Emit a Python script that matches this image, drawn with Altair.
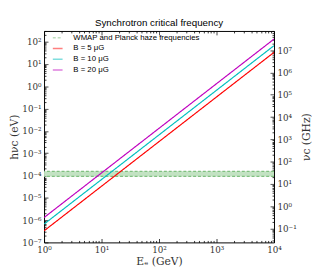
import altair as alt
import pandas as pd

# ---- data ----
energy_gev = [1, 10000]
b_labels = ["B = 5 μG", "B = 10 μG", "B = 20 μG"]
hnu_ev_b5 = [3.3e-7, 33]
hnu_ev_b10 = [6.6e-7, 66]
hnu_ev_b20 = [1.3e-6, 130]
haze_label = "WMAP and Planck haze frequencies"
haze_ghz = [22, 37]

series_order = [haze_label] + b_labels
series_colors = ["#80c080", "#ff0000", "#00bfbf", "#bf00bf"]
series_dash = [[3, 2], [1, 0], [1, 0], [1, 0]]

EV_TO_GHZ = 2.418e5
x_domain = [1, 1e4]
ev_domain = [1e-7, 300]
ghz_domain = [ev_domain[0] * EV_TO_GHZ, ev_domain[1] * EV_TO_GHZ]


def log_ticks(lo, hi):
    vals = []
    for e in range(-9, 10):
        for m in range(1, 10):
            v = float(f"{m}e{e}")
            if lo * (1 - 1e-9) <= v <= hi * (1 + 1e-9):
                vals.append(v)
    return vals


lines_df = pd.DataFrame({
    "energy": energy_gev * 3,
    "ev": hnu_ev_b5 + hnu_ev_b10 + hnu_ev_b20,
    "series": [b_labels[0]] * 2 + [b_labels[1]] * 2 + [b_labels[2]] * 2,
})
rule_df = pd.DataFrame({"ghz": haze_ghz, "series": [haze_label] * 2})
band_df = pd.DataFrame({"lo": [haze_ghz[0]], "hi": [haze_ghz[1]]})
top_df = pd.DataFrame({"energy": energy_gev})

LOG = "log(datum.value)/LN10"
DECADE = f"abs({LOG} - round({LOG})) < 0.001"
SUP = ("(round(" + LOG + ") < 0 ? '⁻' : '') + "
       "['⁰','¹','²','³','⁴','⁵','⁶','⁷','⁸','⁹'][abs(round(" + LOG + "))]")
LABEL = f"({DECADE}) ? '10' + {SUP} : ''"
TICKDASH = {"condition": {"test": f"!({DECADE})", "value": [0, 2, 2, 0]}, "value": [1, 0]}


def log_axis(orient, values, title=None, labels=True, **kw):
    args = dict(
        orient=orient, values=values, labels=labels, domain=False, grid=False,
        offset=-4, tickSize=4, tickColor="black", tickWidth=0.8, tickDash=TICKDASH,
        labelFont="DejaVu Serif", labelFontSize=9, labelColor="#333",
        labelPadding=3, labelOverlap=False, labelFlush=False,
        titleFont="DejaVu Serif", titleFontSize=11, titleFontWeight="normal",
        titleColor="#333",
    )
    if labels:
        args["labelExpr"] = LABEL
    args["title"] = title
    args.update(kw)
    return alt.Axis(**args)


legend = alt.Legend(
    orient="none", legendX=8, legendY=1, title=None, symbolType="stroke",
    symbolSize=100, symbolStrokeWidth=1.6, symbolOpacity=0.5,
    labelFont="Liberation Sans", labelFontSize=8, labelColor="black",
    labelOffset=10, rowPadding=1, padding=0,
)
color_scale = alt.Scale(domain=series_order, range=series_colors)
dash_scale = alt.Scale(domain=series_order, range=series_dash)

ghz_scale = alt.Scale(type="log", domain=ghz_domain)
right_axis = log_axis("right", log_ticks(*ghz_domain), title="νc (GHz)",
                      titleAngle=270, titlePadding=16)

band = alt.Chart(band_df).mark_rect(color="#c2e2c2").encode(
    y=alt.Y("lo:Q", scale=ghz_scale, axis=right_axis),
    y2="hi:Q",
)
rules = alt.Chart(rule_df).mark_rule(strokeWidth=1.2).encode(
    y=alt.Y("ghz:Q", scale=ghz_scale, axis=right_axis),
    color=alt.Color("series:N", scale=color_scale, legend=legend),
    strokeDash=alt.StrokeDash("series:N", scale=dash_scale, legend=legend),
)
right_layer = alt.layer(band, rules)

lines = alt.Chart(lines_df).mark_line(strokeWidth=1.2, clip=True).encode(
    x=alt.X("energy:Q", scale=alt.Scale(type="log", domain=x_domain),
            axis=log_axis("bottom", log_ticks(*x_domain), title="Eₑ (GeV)",
                          titlePadding=2)),
    y=alt.Y("ev:Q", scale=alt.Scale(type="log", domain=ev_domain),
            axis=log_axis("left", log_ticks(*ev_domain), title="hνc (eV)",
                          titlePadding=2)),
    color=alt.Color("series:N", scale=color_scale, legend=legend),
    strokeDash=alt.StrokeDash("series:N", scale=dash_scale, legend=legend),
    detail="series:N",
)

top = alt.Chart(top_df).mark_point(opacity=0).encode(
    x=alt.X("energy:Q", scale=alt.Scale(type="log", domain=x_domain),
            axis=log_axis("top", log_ticks(*x_domain), labels=False)),
)

chart = alt.layer(right_layer, lines, top).resolve_scale(
    y="independent"
).resolve_axis(
    x="independent", y="independent"
).properties(
    width=236, height=217,
    autosize=alt.AutoSizeParams(type="none"),
    padding={"left": 37, "top": 20, "right": 39, "bottom": 35},
    title=alt.TitleParams("Synchrotron critical frequency", font="Liberation Sans",
                          fontSize=10, fontWeight="normal", offset=0, dy=1,
                          color="black"),
).configure_view(stroke="black", strokeWidth=1)

chart.save("out.html", embed_options={"renderer": "svg", "actions": False})
